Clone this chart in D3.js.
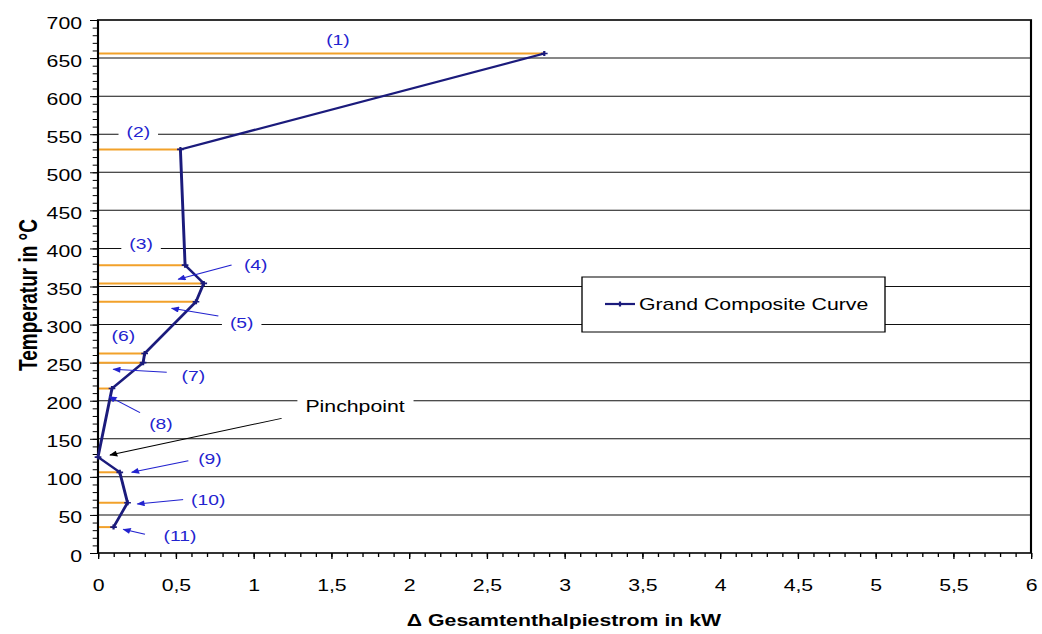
<!DOCTYPE html>
<html>
<head>
<meta charset="utf-8">
<script src="https://cdn.jsdelivr.net/npm/d3@7"></script>
<style>
  html, body { margin: 0; padding: 0; background: #fff; }
  svg { display: block; }
  text { font-family: "Liberation Sans", Arial, sans-serif; }
</style>
</head>
<body>
<script>
// Grand Composite Curve: net heat flow (kW) against shifted temperature (°C)
const gccHeat = [2.87, 0.53, 0.56, 0.68, 0.63, 0.30, 0.29, 0.09, 0.00, 0.14, 0.19, 0.10];
const gccTemp = [656, 530, 378, 354, 330, 262, 250, 216, 126, 106, 66, 34];

// Axis ticks
const xTickValues = [0, 0.5, 1, 1.5, 2, 2.5, 3, 3.5, 4, 4.5, 5, 5.5, 6];
const yTickValues = [0, 50, 100, 150, 200, 250, 300, 350, 400, 450, 500, 550, 600, 650, 700];

// Interval labels, placed in data coordinates (heat, temperature)
const noteText = ["(1)", "(2)", "(3)", "(4)", "(5)", "(6)", "(7)", "(8)", "(9)", "(10)", "(11)", "Pinchpoint"];
const noteHeat = [1.543, 0.259, 0.277, 1.014, 0.924, 0.163, 0.613, 0.405, 0.720, 0.709, 0.527, 1.653];
const noteTemp = [673.7, 553.3, 405.8, 378.2, 302.5, 285.0, 232.4, 170.3, 124.3, 70.5, 22.3, 193.0];

// Pointer arrows: tail and head in data coordinates
const arrowName = ["(4)", "(5)", "(7)", "(8)", "(9)", "(10)", "(11)", "Pinchpoint"];
const arrowFromHeat = [0.859, 0.774, 0.442, 0.270, 0.581, 0.570, 0.302, 1.181];
const arrowFromTemp = [378.2, 311.2, 237.3, 184.3, 121.2, 70.5, 24.5, 176.8];
const arrowToHeat = [0.516, 0.474, 0.098, 0.073, 0.217, 0.253, 0.163, 0.077];
const arrowToTemp = [359.5, 321.3, 241.3, 205.3, 106.0, 64.3, 31.1, 128.7];

const W = 1042, H = 634;
const S = 1.33;            // the drawing is laid out narrow and stretched to full width
const VW = W / S;

const navy = "#1b1b7c";
const orange = "#f2a12a";
const noteBlue = "#2323cf";

const svg = d3.select("body").append("svg")
  .attr("width", W).attr("height", H)
  .attr("viewBox", `0 0 ${VW} ${H}`)
  .attr("preserveAspectRatio", "none");

const plot = { left: 98 / S, right: 1031 / S, top: 20, bottom: 553 };

const x = d3.scaleLinear().domain([0, 6]).range([plot.left, plot.right]);
const y = d3.scaleLinear().domain([0, 700]).range([plot.bottom, plot.top]);

// arrowheads
const defs = svg.append("defs");
[["ah-blue", noteBlue], ["ah-black", "#000"]].forEach(([id, col]) => {
  defs.append("marker")
    .attr("id", id)
    .attr("viewBox", "0 0 10 10")
    .attr("refX", 9).attr("refY", 5)
    .attr("markerWidth", 8).attr("markerHeight", 6)
    .attr("markerUnits", "userSpaceOnUse")
    .attr("orient", "auto")
    .append("path").attr("d", "M0,0 L10,5 L0,10 Z").attr("fill", col);
});

// horizontal gridlines
svg.append("g")
  .selectAll("line")
  .data(yTickValues.filter(d => d > 0 && d < 700))
  .join("line")
  .attr("x1", plot.left).attr("x2", plot.right)
  .attr("y1", d => y(d)).attr("y2", d => y(d))
  .attr("stroke", "#111").attr("stroke-width", 1);

// orange interval lines from the temperature axis to each curve point
svg.append("g")
  .selectAll("line")
  .data(gccTemp.map((t, i) => ({ t, q: gccHeat[i] })))
  .join("line")
  .attr("x1", x(0)).attr("x2", d => x(d.q))
  .attr("y1", d => y(d.t)).attr("y2", d => y(d.t))
  .attr("stroke", orange).attr("stroke-width", 2);

// y axis: minor and major ticks
const yMinor = d3.range(0, 701, 10);
svg.append("g")
  .attr("transform", `translate(${plot.left},0)`)
  .call(d3.axisLeft(y).tickValues(yMinor).tickSize(4).tickFormat(""))
  .call(g => g.select(".domain").remove())
  .call(g => g.selectAll("line").attr("stroke", "#000"));

svg.append("g")
  .attr("transform", `translate(${plot.left},0)`)
  .call(d3.axisLeft(y).tickValues(yTickValues).tickSize(6).tickPadding(6).tickFormat(d => d))
  .call(g => g.select(".domain").remove())
  .call(g => g.selectAll("line").attr("stroke", "#000"))
  .call(g => g.selectAll("text")
    .attr("font-size", 16).attr("fill", "#000").attr("dy", "0.5em")
    .attr("font-family", "'Liberation Sans', Arial, sans-serif"));

// x axis: minor and major ticks
const xMinor = d3.range(0, 61).map(i => i / 10);
svg.append("g")
  .attr("transform", `translate(0,${plot.bottom})`)
  .call(d3.axisBottom(x).tickValues(xMinor).tickSize(4).tickFormat(""))
  .call(g => g.select(".domain").remove())
  .call(g => g.selectAll("line").attr("stroke", "#000"));

svg.append("g")
  .attr("transform", `translate(0,${plot.bottom})`)
  .call(d3.axisBottom(x).tickValues(xTickValues).tickSize(6).tickPadding(21)
    .tickFormat(d => String(d).replace(".", ",")))
  .call(g => g.select(".domain").remove())
  .call(g => g.selectAll("line").attr("stroke", "#000"))
  .call(g => g.selectAll("text")
    .attr("font-size", 16).attr("fill", "#000")
    .attr("font-family", "'Liberation Sans', Arial, sans-serif"));

// plot frame
svg.append("rect")
  .attr("x", plot.left).attr("y", plot.top)
  .attr("width", plot.right - plot.left).attr("height", plot.bottom - plot.top)
  .attr("fill", "none").attr("stroke", "#000").attr("stroke-width", 1.6);

// the curve
const pts = gccHeat.map((q, i) => [x(q), y(gccTemp[i])]);
svg.append("path")
  .attr("d", d3.line()(pts))
  .attr("fill", "none").attr("stroke", navy).attr("stroke-width", 2.2)
  .attr("stroke-linejoin", "round");

svg.append("g")
  .selectAll("path")
  .data(pts)
  .join("path")
  .attr("transform", d => `translate(${d[0]},${d[1]})`)
  .attr("d", d3.symbol().type(d3.symbolCross).size(14))
  .attr("fill", navy);

// pointer arrows
svg.append("g")
  .selectAll("line")
  .data(arrowName.map((n, i) => ({ n, i })))
  .join("line")
  .attr("x1", d => x(arrowFromHeat[d.i])).attr("y1", d => y(arrowFromTemp[d.i]))
  .attr("x2", d => x(arrowToHeat[d.i])).attr("y2", d => y(arrowToTemp[d.i]))
  .attr("stroke", d => d.n === "Pinchpoint" ? "#000" : noteBlue)
  .attr("stroke-width", 1)
  .attr("marker-end", d => d.n === "Pinchpoint" ? "url(#ah-black)" : "url(#ah-blue)");

// labels with a white backing so gridlines break around them
const notes = svg.append("g")
  .selectAll("g")
  .data(noteText.map((t, i) => ({ t, i })))
  .join("g")
  .attr("transform", d => `translate(${x(noteHeat[d.i])},${y(noteTemp[d.i])})`);

notes.append("text")
  .attr("text-anchor", "middle")
  .attr("dy", "0.36em")
  .attr("font-size", d => d.t === "Pinchpoint" ? 16 : 14.5)
  .attr("fill", d => d.t === "Pinchpoint" ? "#000" : noteBlue)
  .text(d => d.t);

notes.each(function () {
  const g = d3.select(this);
  const b = g.select("text").node().getBBox();
  g.insert("rect", "text")
    .attr("x", b.x - 6).attr("y", b.y)
    .attr("width", b.width + 12).attr("height", b.height)
    .attr("fill", "#fff");
});

// legend
const lg = { x0: 582 / S, x1: 885 / S, y0: 277, y1: 332 };
svg.append("rect")
  .attr("x", lg.x0).attr("y", lg.y0)
  .attr("width", lg.x1 - lg.x0).attr("height", lg.y1 - lg.y0)
  .attr("fill", "#fff").attr("stroke", "#000").attr("stroke-width", 1);
svg.append("line")
  .attr("x1", 605 / S).attr("x2", 635 / S)
  .attr("y1", 304).attr("y2", 304)
  .attr("stroke", navy).attr("stroke-width", 2.2);
svg.append("path")
  .attr("transform", `translate(${620 / S},304)`)
  .attr("d", d3.symbol().type(d3.symbolCross).size(14))
  .attr("fill", navy);
svg.append("text")
  .attr("x", 639 / S).attr("y", 304).attr("dy", "0.36em")
  .attr("font-size", 16).attr("fill", "#000")
  .text("Grand Composite Curve");

// axis titles
svg.append("text")
  .attr("transform", `translate(${28 / S},295) rotate(-90)`)
  .attr("text-anchor", "middle").attr("dy", "0.36em")
  .attr("font-size", 19).attr("font-weight", "bold").attr("fill", "#000")
  .text("Temperatur in °C");

svg.append("text")
  .attr("x", 564 / S).attr("y", 626)
  .attr("text-anchor", "middle")
  .attr("font-size", 16).attr("font-weight", "bold").attr("fill", "#000")
  .text("Δ Gesamtenthalpiestrom in kW");
</script>
</body>
</html>
